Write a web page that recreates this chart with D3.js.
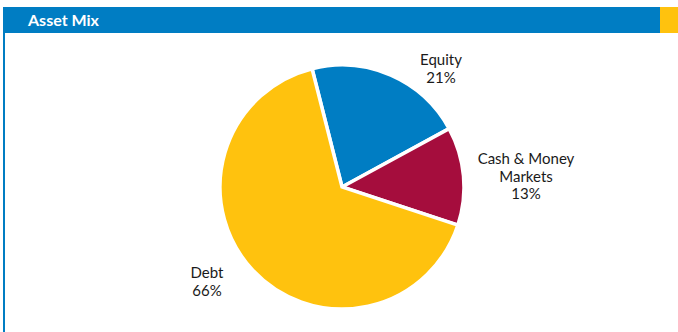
<!DOCTYPE html>
<html>
<head>
<meta charset="utf-8">
<script src="https://cdn.jsdelivr.net/npm/d3@7"></script>
<style>
  html, body { margin: 0; padding: 0; background: #fff; }
  svg { display: block; }
</style>
</head>
<body>
<svg id="chart" width="678" height="332"></svg>
<script>
// Asset allocation shares (percent)
const categories = ["Equity", "Cash & Money Markets", "Debt"];
const values = [21, 13, 66];
const labelLines = [["Equity", "21%"], ["Cash & Money", "Markets", "13%"], ["Debt", "66%"]];
const colors = ["#007dc3", "#a50d3d", "#ffc20e"];

const svg = d3.select("#chart");
const W = 678, H = 332;

// Header band with title and accent block
svg.append("rect").attr("x", 3).attr("y", 7).attr("width", 657).attr("height", 26).attr("fill", "#007dc3");
svg.append("rect").attr("x", 660).attr("y", 7).attr("width", 18).attr("height", 26).attr("fill", "#ffc20e");
svg.append("rect").attr("x", 3).attr("y", 33).attr("width", 2).attr("height", H - 33).attr("fill", "#007dc3");
svg.append("text").attr("x", 28).attr("y", 25.5)
  .attr("fill", "#fff").attr("font-family", "Lato, sans-serif")
  .attr("font-size", 16).attr("font-weight", "bold").text("Asset Mix");

// Pie
const cx = 342, cy = 187, r = 122;
const startDeg = -14.2;
const pie = d3.pie().sort(null).value(d => d)
  .startAngle(startDeg * Math.PI / 180)
  .endAngle((startDeg + 360) * Math.PI / 180);
const arcs = pie(values);
const arc = d3.arc().innerRadius(0).outerRadius(r);

const g = svg.append("g").attr("transform", `translate(${cx},${cy})`);
g.selectAll("path").data(arcs).join("path")
  .attr("d", arc)
  .attr("fill", (d, i) => colors[i])
  .attr("stroke", "#fff").attr("stroke-width", 3.5).attr("stroke-linejoin", "miter");

// Outside labels, one line per tspan
const labelPos = [[441, 65], [526, 164], [207, 278]];
labelLines.forEach((lines, i) => {
  const t = svg.append("text")
    .attr("text-anchor", "middle")
    .attr("font-family", "Lato, sans-serif")
    .attr("font-size", 15).attr("fill", "#1a1a1a");
  lines.forEach((ln, j) => {
    t.append("tspan").attr("x", labelPos[i][0]).attr("y", labelPos[i][1] + j * 17.5).text(ln);
  });
});
</script>
</body>
</html>
